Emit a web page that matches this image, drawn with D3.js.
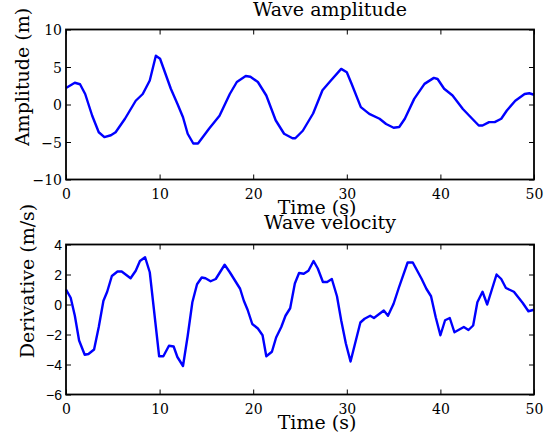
<!DOCTYPE html>
<html>
<head>
<meta charset="utf-8">
<script src="https://cdn.jsdelivr.net/npm/d3@7"></script>
<style>
  body { margin: 0; background: #fff; }
  svg { display: block; }
</style>
</head>
<body>
<svg width="547" height="437"></svg>
<script>
// wave amplitude (m) vs time (s)
const ampTime = [0, 0.94, 1.5, 2.05, 2.8, 3.5, 4.1, 4.8, 5.3, 6.3, 7.45, 8.2, 8.95, 9.6, 10.05,
    11.2, 11.9, 12.5, 13.0, 13.6, 14.1, 15.3, 16.4, 17.5, 18.25, 19.2, 19.7, 20.5, 21.4, 22.4,
    23.3, 24.2, 24.5, 25.3, 26.4, 27.4, 28.3, 29.4, 30.0, 30.5, 31.5, 32.4, 33.5, 34.2, 35.0,
    35.6, 36.2, 37.2, 38.3, 39.3, 39.7, 40.4, 41.3, 42.4, 43.4, 44.1, 44.5, 45.2, 45.8, 46.5,
    47.1, 48.0, 49.0, 49.5, 50];
const ampValue = [2.2, 2.9, 2.7, 1.4, -1.5, -3.7, -4.35, -4.1, -3.7, -1.9, 0.5, 1.4, 3.2, 6.5, 6.1,
    2.1, 0.1, -1.7, -3.9, -5.2, -5.2, -3.2, -1.5, 1.4, 3.0, 3.8, 3.7, 3.0, 1.2, -2.1,
    -3.9, -4.5, -4.5, -3.5, -1.2, 1.9, 3.2, 4.75, 4.3, 2.8, -0.35, -1.25, -1.9, -2.6, -3.1,
    -3.0, -1.9, 0.75, 2.75, 3.55, 3.4, 2.1, 1.2, -0.6, -1.9, -2.8, -2.8, -2.35, -2.35, -1.9,
    -0.8, 0.5, 1.4, 1.5, 1.3];

// wave velocity (m/s) vs time (s)
const velTime = [0, 0.5, 0.94, 1.4, 2.0, 2.4, 3.0, 3.5, 4.0, 4.4, 4.9, 5.5, 5.95, 6.9, 7.45,
    7.9, 8.45, 8.95, 9.95, 10.4, 11.0, 11.5, 11.9, 12.5, 13.0, 13.5, 14.0, 14.5, 14.9, 15.45,
    16.0, 16.95, 17.5, 18.6, 19.0, 19.4, 19.9, 20.5, 21.0, 21.4, 22.0, 22.45, 23.0, 23.45, 23.95,
    24.45, 24.9, 25.4, 25.9, 26.45, 26.9, 27.45, 27.9, 28.4, 28.95, 29.4, 29.9, 30.4, 31.45, 31.9,
    32.5, 32.9, 33.95, 34.4, 35.0, 35.55, 36.5, 37.05, 38.0, 38.5, 39.0, 39.5, 40.0, 40.5, 41.0,
    41.5, 42.5, 43.0, 43.5, 43.95, 44.5, 45.0, 46.0, 46.5, 47.0, 47.85, 48.8, 49.4, 50];
const velValue = [1.0, 0.45, -0.73, -2.4, -3.35, -3.3, -3.0, -1.5, 0.25, 0.85, 1.9, 2.2, 2.2, 1.75, 2.25,
    2.9, 3.15, 2.15, -3.45, -3.45, -2.75, -2.8, -3.5, -4.1, -2.1, 0.15, 1.35, 1.8, 1.75, 1.55,
    1.7, 2.65, 2.15, 1.05, 0.25, -0.35, -1.3, -1.6, -2.05, -3.45, -3.15, -2.2, -1.5, -0.75, -0.25,
    1.4, 2.1, 2.05, 2.25, 2.9, 2.4, 1.5, 1.5, 1.7, 0.55, -1.05, -2.6, -3.8, -1.2, -0.95,
    -0.75, -0.9, -0.4, -0.75, 0.05, 1.1, 2.8, 2.8, 1.7, 1.05, 0.55, -0.85, -2.05, -1.05, -0.9,
    -1.85, -1.5, -1.7, -1.4, 0.15, 0.85, 0.0, 2.0, 1.7, 1.1, 0.85, 0.1, -0.45, -0.35];

const xTicks = [0, 10, 20, 30, 40, 50];
const ampTicks = [-10, -5, 0, 5, 10];
const velTicks = [-6, -4, -2, 0, 2, 4];

const svg = d3.select('svg');
const serif = 'DejaVu Serif';
const plotLeft = 66, plotRight = 534;

const x = d3.scaleLinear().domain([0, 50]).range([plotLeft, plotRight]);

function drawAxis(g, axis, tx, ty, labels, font) {
    const s = g.append('g')
        .attr('transform', `translate(${tx},${ty})`)
        .call(axis.tickSizeInner(-5).tickSizeOuter(0).tickPadding(0)
            .tickFormat(labels ? d3.format('d') : ''));
    s.select('.domain').remove();
    s.selectAll('line').attr('stroke', '#000').attr('stroke-width', 1);
    s.selectAll('text').attr('fill', '#000')
        .style('font-family', font).style('font-size', '14px');
    return s;
}

function panel(cfg) {
    const y = d3.scaleLinear().domain(cfg.domain).range([cfg.bottom, cfg.top]);
    const g = svg.append('g');

    const line = d3.line().x(d => x(d[0])).y(d => y(d[1]));
    g.append('path')
        .datum(cfg.t.map((t, i) => [t, cfg.v[i]]))
        .attr('d', line)
        .attr('fill', 'none')
        .attr('stroke', '#0000ff')
        .attr('stroke-width', 2.4)
        .attr('stroke-linejoin', 'round');

    // ticks point inwards on all four sides
    const xb = drawAxis(g, d3.axisBottom(x).tickValues(xTicks), 0, cfg.bottom, true, serif);
    xb.selectAll('text').attr('y', 9).attr('dy', '0.75em');
    drawAxis(g, d3.axisTop(x).tickValues(xTicks), 0, cfg.top, false, serif);
    const yl = drawAxis(g, d3.axisLeft(y).tickValues(cfg.ticks), plotLeft, 0, true, cfg.tickFont);
    yl.selectAll('text').attr('x', -4).attr('dy', '0.36em');
    drawAxis(g, d3.axisRight(y).tickValues(cfg.ticks), plotRight, 0, false, serif);

    g.append('rect')
        .attr('x', plotLeft).attr('y', cfg.top)
        .attr('width', plotRight - plotLeft).attr('height', cfg.bottom - cfg.top)
        .attr('fill', 'none').attr('stroke', '#000').attr('stroke-width', 1.8);

    g.append('text')
        .attr('x', 330).attr('y', cfg.titleY)
        .attr('text-anchor', 'middle')
        .style('font-family', serif).style('font-size', '19px')
        .text(cfg.title);

    g.append('text')
        .attr('x', 317).attr('y', cfg.bottom + 34)
        .attr('text-anchor', 'middle')
        .style('font-family', serif).style('font-size', '19px')
        .text('Time (s)');

    g.append('text')
        .attr('transform', `translate(${cfg.labelX},${cfg.labelY}) rotate(-90)`)
        .attr('text-anchor', 'middle')
        .style('font-family', serif).style('font-size', '19px')
        .text(cfg.ylabel);
}

panel({
    t: ampTime, v: ampValue, domain: [-10, 10], ticks: ampTicks, tickFont: serif,
    top: 29.5, bottom: 179.5, title: 'Wave amplitude', titleY: 16,
    ylabel: 'Amplitude (m)', labelX: 29, labelY: 77
});
panel({
    t: velTime, v: velValue, domain: [-6, 4], ticks: velTicks, tickFont: 'Liberation Sans',
    top: 244.5, bottom: 394.5, title: 'Wave velocity', titleY: 229,
    ylabel: 'Derivative (m/s)', labelX: 34, labelY: 281
});
</script>
</body>
</html>
